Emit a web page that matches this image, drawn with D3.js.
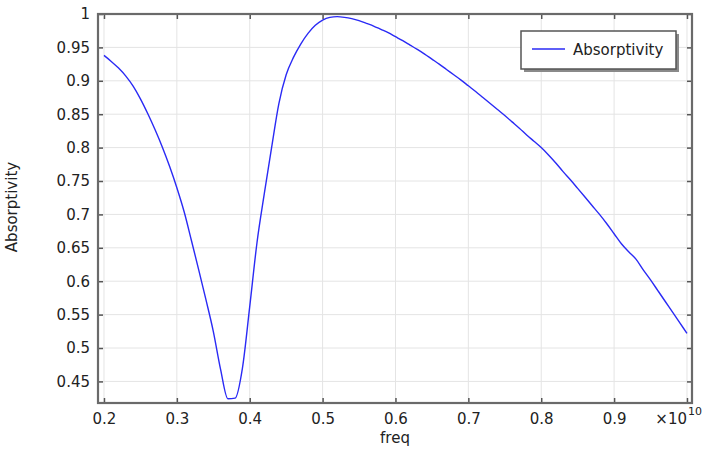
<!DOCTYPE html>
<html>
<head>
<meta charset="utf-8">
<script src="https://cdn.jsdelivr.net/npm/d3@7"></script>
<style>
  body { margin: 0; background: #fff; }
  text { font-family: "DejaVu Sans", sans-serif; fill: #222; }
</style>
</head>
<body>
<svg id="chart" width="707" height="453"></svg>
<script>
// frequency in units of 1e10 Hz
const freq = [
  0.20, 0.21, 0.22, 0.23, 0.24, 0.25, 0.26, 0.27, 0.28, 0.29,
  0.30, 0.31, 0.32, 0.33, 0.34, 0.35, 0.36, 0.37, 0.38, 0.39,
  0.40, 0.41, 0.42, 0.43, 0.44, 0.45, 0.46, 0.47, 0.48, 0.49,
  0.50, 0.51, 0.52, 0.53, 0.54, 0.55, 0.56, 0.57, 0.58, 0.59,
  0.60, 0.61, 0.62, 0.63, 0.64, 0.65, 0.66, 0.67, 0.68, 0.69,
  0.70, 0.71, 0.72, 0.73, 0.74, 0.75, 0.76, 0.77, 0.78, 0.79,
  0.80, 0.81, 0.82, 0.83, 0.84, 0.85, 0.86, 0.87, 0.88, 0.89,
  0.90, 0.91, 0.92, 0.93, 0.94, 0.95, 0.96, 0.97, 0.98, 0.99,
  1.00
];
const absorptivity = [
  0.938, 0.929, 0.919, 0.907, 0.892, 0.873, 0.851, 0.827, 0.801, 0.772,
  0.740, 0.704, 0.661, 0.617, 0.572, 0.525, 0.468, 0.424, 0.425, 0.470,
  0.562, 0.658, 0.731, 0.800, 0.866, 0.909, 0.935, 0.955, 0.971, 0.983,
  0.991, 0.995, 0.996, 0.995, 0.993, 0.990, 0.986, 0.982, 0.977, 0.972,
  0.966, 0.960, 0.9535, 0.947, 0.940, 0.9325, 0.925, 0.917, 0.909, 0.901,
  0.8925, 0.884, 0.875, 0.866, 0.857, 0.848, 0.8385, 0.829, 0.819, 0.8095,
  0.800, 0.789, 0.777, 0.764, 0.752, 0.739, 0.726, 0.713, 0.700, 0.686,
  0.671, 0.656, 0.644, 0.633, 0.617, 0.602, 0.586, 0.570, 0.554, 0.538,
  0.522
];
const xTicks = [0.2, 0.3, 0.4, 0.5, 0.6, 0.7, 0.8, 0.9, 1.0];
const yTicks = [0.45, 0.5, 0.55, 0.6, 0.65, 0.7, 0.75, 0.8, 0.85, 0.9, 0.95, 1.0];
const seriesName = "Absorptivity";
const xLabel = "freq";
const yLabel = "Absorptivity";

const plotLeft = 98, plotRight = 692, plotTop = 14, plotBottom = 403;
const svg = d3.select("#chart");

const x = d3.scaleLinear().domain([0.1918, 1.0069]).range([plotLeft, plotRight]);
const y = d3.scaleLinear().domain([0.4177, 1.0]).range([plotBottom, plotTop]);

// grid
svg.append("g")
  .selectAll("line")
  .data(xTicks)
  .join("line")
  .attr("x1", d => x(d)).attr("x2", d => x(d))
  .attr("y1", plotTop).attr("y2", plotBottom)
  .attr("stroke", "#e4e4e4").attr("stroke-width", 1);
svg.append("g")
  .selectAll("line")
  .data(yTicks)
  .join("line")
  .attr("x1", plotLeft).attr("x2", plotRight)
  .attr("y1", d => y(d)).attr("y2", d => y(d))
  .attr("stroke", "#e4e4e4").attr("stroke-width", 1);

// curve
const line = d3.line()
  .x((d, i) => x(freq[i]))
  .y(d => y(d))
  .curve(d3.curveMonotoneX);
svg.append("path")
  .datum(absorptivity)
  .attr("d", line)
  .attr("fill", "none")
  .attr("stroke", "#2a2af5")
  .attr("stroke-width", 1.4)
  .attr("stroke-linejoin", "round");

// axes (ticks point inward)
const styleAxis = g => {
  g.select(".domain").remove();
  g.selectAll(".tick line").attr("stroke", "#555").attr("stroke-width", 1.5);
  g.selectAll(".tick text").attr("font-size", 15).attr("fill", "#222")
    .attr("font-family", "DejaVu Sans, sans-serif");
};

svg.append("g")
  .attr("transform", `translate(0,${plotBottom})`)
  .call(d3.axisBottom(x).tickValues(xTicks).tickSize(-5).tickPadding(10)
    .tickFormat(d => d === 1 ? "" : String(+d.toFixed(1))))
  .call(styleAxis);

svg.append("g")
  .attr("transform", `translate(${plotLeft},0)`)
  .call(d3.axisLeft(y).tickValues(yTicks).tickSize(-5).tickPadding(8)
    .tickFormat(d => String(+d.toFixed(2))))
  .call(styleAxis);

svg.append("g")
  .attr("transform", `translate(0,${plotTop})`)
  .call(d3.axisTop(x).tickValues(xTicks).tickSize(-5).tickFormat(""))
  .call(styleAxis);

svg.append("g")
  .attr("transform", `translate(${plotRight},0)`)
  .call(d3.axisRight(y).tickValues(yTicks).tickSize(-5).tickFormat(""))
  .call(styleAxis);

// frame
svg.append("rect")
  .attr("x", plotLeft).attr("y", plotTop)
  .attr("width", plotRight - plotLeft).attr("height", plotBottom - plotTop)
  .attr("fill", "none").attr("stroke", "#6a6a6a").attr("stroke-width", 2.2);

// exponent label
svg.append("text")
  .attr("x", x(1.0)).attr("y", 424)
  .attr("text-anchor", "end").attr("font-size", 15)
  .text("\u00d710");
svg.append("text")
  .attr("x", x(1.0) + 1).attr("y", 415)
  .attr("font-size", 11)
  .text("10");

// axis titles
svg.append("text")
  .attr("x", (plotLeft + plotRight) / 2).attr("y", 443)
  .attr("text-anchor", "middle").attr("font-size", 15)
  .text(xLabel);
svg.append("text")
  .attr("transform", "translate(17,207) rotate(-90)")
  .attr("text-anchor", "middle").attr("font-size", 15)
  .text(yLabel);

// legend
const lg = svg.append("g").attr("transform", "translate(521,31)");
lg.append("rect")
  .attr("x", 3).attr("y", 3).attr("width", 155).attr("height", 38)
  .attr("fill", "#8a8a8a");
lg.append("rect")
  .attr("width", 155).attr("height", 38)
  .attr("fill", "#fff").attr("stroke", "#555").attr("stroke-width", 1.5);
lg.append("line")
  .attr("x1", 11).attr("x2", 44).attr("y1", 18).attr("y2", 18)
  .attr("stroke", "#2a2af5").attr("stroke-width", 1.4);
lg.append("text")
  .attr("x", 52).attr("y", 24).attr("font-size", 15)
  .text(seriesName);
</script>
</body>
</html>
